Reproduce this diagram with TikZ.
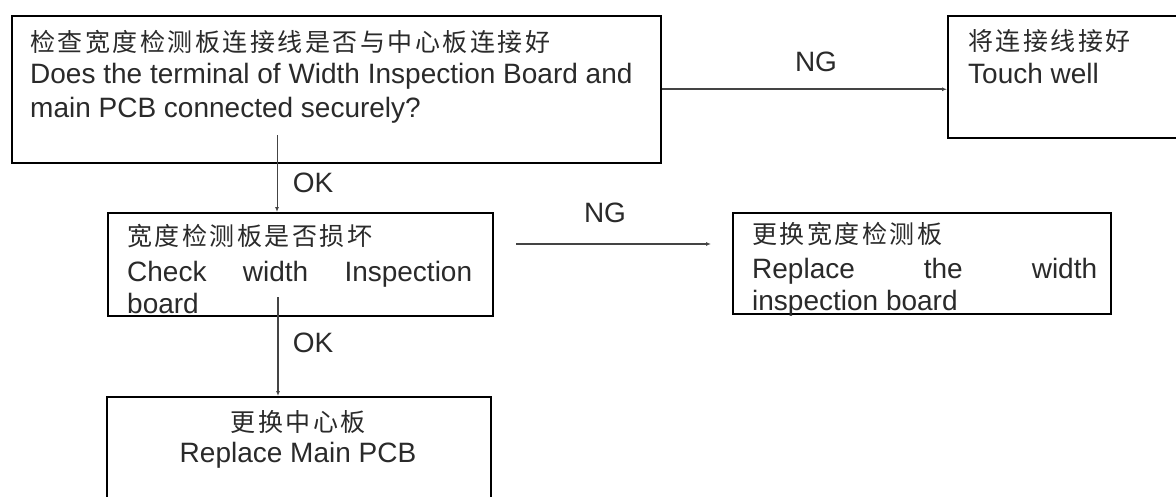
\documentclass[tikz,border=0pt]{standalone}
\usepackage{fontspec}
\setmainfont{Liberation Sans}
\newfontfamily\cjk[LetterSpace=10]{Noto Sans CJK SC}
\usetikzlibrary{arrows.meta}
\definecolor{txtgray}{HTML}{2A2A2A}
\definecolor{linegray}{HTML}{444444}
\newcommand\lat{\fontsize{28}{32}\selectfont}
\newcommand\zh{\cjk\fontsize{25}{29}\selectfont}
\tikzset{
  box/.style={draw=black, line width=1.5pt, inner sep=0pt, anchor=north west},
  txt/.style={anchor=base west, inner sep=0pt, text=txtgray},
  lbl/.style={inner sep=0pt, text=txtgray, font=\lat},
  conn/.style={draw=linegray, line width=1.6pt, -{Latex[length=5pt,width=4pt]}}
}
\begin{document}
\begin{tikzpicture}[x=1pt,y=-1pt]
\useasboundingbox[fill=white] (0,0) rectangle (1176,496);
% boxes
\node[box, minimum width=649pt, minimum height=147pt] (b1) at (11,15) {};
\node[box, minimum width=240pt, minimum height=122pt] (b2) at (947,15) {};
\node[box, minimum width=385pt, minimum height=103pt] (b3) at (107,212) {};
\node[box, minimum width=378pt, minimum height=101pt] (b4) at (732,212) {};
\node[box, minimum width=384pt, minimum height=120pt] (b5) at (106,396) {};
% texts
\node[txt, font=\zh] (t1a) at (30,51) {检查宽度检测板连接线是否与中心板连接好};
\node[txt, font=\lat] (t1b) at (30,83) {Does the terminal of Width Inspection Board and};
\node[txt, font=\lat] (t1c) at (30,117) {main PCB connected securely?};
\node[txt, font=\zh] (t2a) at (968,50) {将连接线接好};
\node[txt, font=\lat] (t2b) at (968,83) {Touch well};
\node[txt, font=\zh] (t3a) at (127,245) {宽度检测板是否损坏};
\node[txt, font=\lat] (t3b) at (127,281) {\makebox[345pt][l]{Check\hfill width\hfill Inspection}};
\node[txt, font=\lat] (t3c) at (127,313) {board};
\node[txt, font=\zh] (t4a) at (752,243) {更换宽度检测板};
\node[txt, font=\lat] (t4b) at (752,278) {\makebox[345pt][l]{Replace\hfill the\hfill width}};
\node[txt, font=\lat] (t4c) at (752,310) {inspection board};
\node[anchor=base, inner sep=0pt, text=txtgray, font=\zh] (t5a) at (298,431) {更换中心板};
\node[anchor=base, inner sep=0pt, text=txtgray, font=\lat] (t5b) at (298,462) {Replace Main PCB};
% labels
\node[lbl] (ng1) at (816,62) {NG};
\node[lbl] (ng2) at (605,213) {NG};
\node[lbl] (ok1) at (313,183) {OK};
\node[lbl] (ok2) at (313,343) {OK};
% connectors
\coordinate (c1) at (277,135);
\coordinate (c2) at (278,297);
\coordinate (n2a) at (516,244);
\coordinate (n2b) at (711,244);
\draw[conn, line width=1pt] (c1) -- (c1 |- b3.north);
\draw[conn, line width=2pt] (c2) -- (c2 |- b5.north);
\draw[conn, line width=2pt] (b1.east) -- (b1.east -| b2.west);
\draw[conn, line width=1.5pt] (n2a) -- (n2b);
\end{tikzpicture}
\end{document}
